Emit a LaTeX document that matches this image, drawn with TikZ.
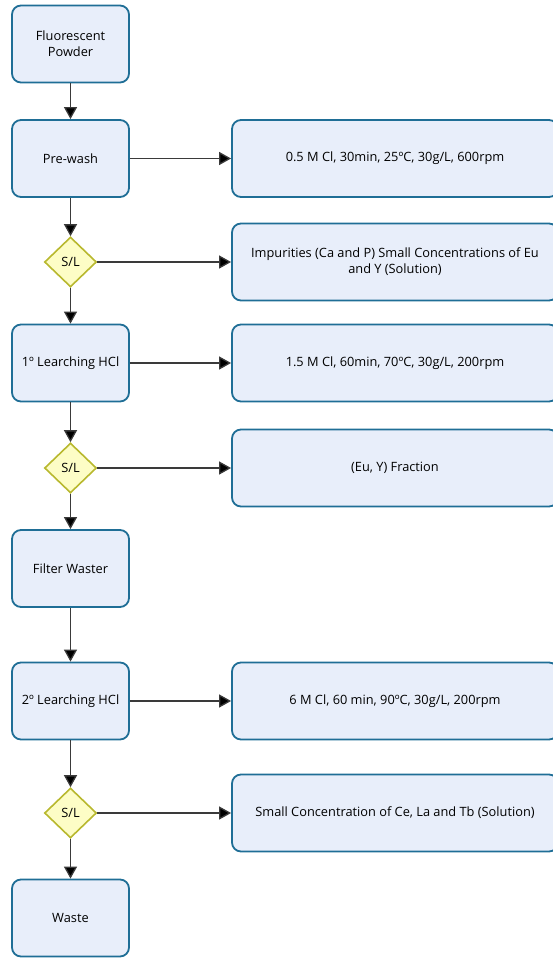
\documentclass[tikz,border=0pt]{standalone}
\usepackage{fontspec}
\setmainfont{Open Sans}
\usetikzlibrary{arrows.meta,shapes.geometric}
\definecolor{boxfill}{HTML}{E8EEFA}
\definecolor{boxline}{HTML}{1F6E96}
\definecolor{dfill}{HTML}{FDFDC6}
\definecolor{dline}{HTML}{B8B82E}
\definecolor{conn}{HTML}{3A3A3A}
\begin{document}
\begin{tikzpicture}[x=1pt,y=-1pt,
  lbox/.style={draw=boxline, fill=boxfill, line width=1.8pt, rounded corners=9pt,
    minimum width=117pt, minimum height=77pt, align=center, inner sep=2pt,
    font=\fontsize{12.8}{16}\selectfont},
  rbox/.style={lbox, minimum width=326pt},
  dec/.style={diamond, draw=dline, fill=dfill, line width=1.6pt,
    minimum width=52pt, minimum height=50pt, inner sep=0pt,
    font=\fontsize{12.8}{16}\selectfont},
  arr/.style={draw=conn, line width=1.3pt, -{Triangle[length=12pt,width=13pt,fill=black]}}
]
\useasboundingbox (0,0) rectangle (552,958);
\node[lbox] (fp) at (70.5,44) {Fluorescent\\Powder};
\node[lbox] (pw) at (70.5,158.5) {Pre-wash};
\node[dec] (d1) at (70.5,262) {S/L};
\node[lbox] (l1) at (70.5,363) {1º Learching HCl};
\node[dec] (d2) at (70.5,468) {S/L};
\node[lbox] (fw) at (70.5,568.5) {Filter Waster};
\node[lbox] (l2) at (70.5,701) {2º Learching HCl};
\node[dec] (d3) at (70.5,813) {S/L};
\node[lbox] (ws) at (70.5,918) {Waste};

\node[rbox] (r1) at (395,158.5) {0.5 M Cl, 30min, 25ºC, 30g/L, 600rpm};
\node[rbox] (r2) at (395,262) {Impurities (Ca and P) Small Concentrations of Eu\\and Y (Solution)};
\node[rbox] (r3) at (395,363) {1.5 M Cl, 60min, 70ºC, 30g/L, 200rpm};
\node[rbox] (r4) at (395,468) {(Eu, Y) Fraction};
\node[rbox] (r5) at (395,701) {6 M Cl, 60 min, 90ºC, 30g/L, 200rpm};
\node[rbox] (r6) at (395,813) {Small Concentration of Ce, La and Tb (Solution)};

\draw[arr] (fp) -- (pw);
\draw[arr] (pw) -- (d1);
\draw[arr] (d1) -- (l1);
\draw[arr] (l1) -- (d2);
\draw[arr] (d2) -- (fw);
\draw[arr] (fw) -- (l2);
\draw[arr] (l2) -- (d3);
\draw[arr] (d3) -- (ws);

\draw[arr] (pw) -- (r1);
\draw[arr] (d1) -- (r2);
\draw[arr] (l1) -- (r3);
\draw[arr] (d2) -- (r4);
\draw[arr] (l2) -- (r5);
\draw[arr] (d3) -- (r6);
\end{tikzpicture}
\end{document}
